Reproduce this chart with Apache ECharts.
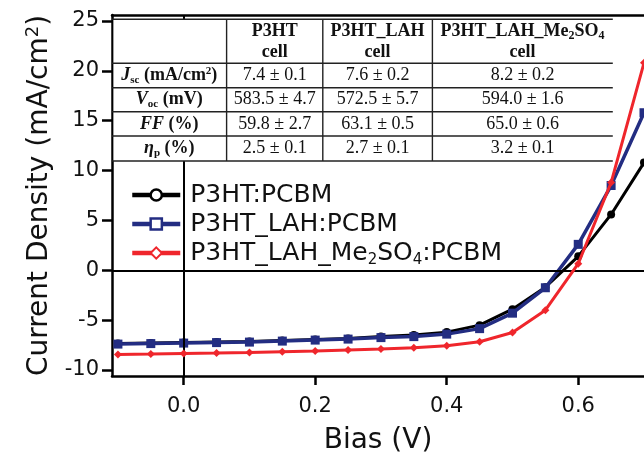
<!DOCTYPE html>
<html>
<head>
<meta charset="utf-8">
<script src="https://cdn.jsdelivr.net/npm/echarts@6/dist/echarts.min.js"></script>
<style>
  html, body { margin: 0; padding: 0; background: #fff; }
  #chart { width: 644px; height: 460px; }
</style>
</head>
<body>
<div id="chart"></div>
<script>
// ---- data ----
const biasV = [-0.1, -0.05, 0, 0.05, 0.1, 0.15, 0.2, 0.25, 0.3, 0.35, 0.4, 0.45, 0.5, 0.55, 0.6, 0.65, 0.7];
const p3htPcbm = [-7.35, -7.3, -7.25, -7.2, -7.15, -7.05, -6.95, -6.85, -6.65, -6.5, -6.2, -5.5, -3.9, -1.7, 1.4, 5.6, 10.8];
const p3htLahPcbm = [-7.4, -7.35, -7.3, -7.25, -7.2, -7.1, -7.0, -6.9, -6.75, -6.65, -6.4, -5.85, -4.3, -1.75, 2.6, 8.5, 15.8];
const p3htLahMePcbm = [-8.44, -8.4, -8.34, -8.3, -8.24, -8.17, -8.1, -8.0, -7.9, -7.77, -7.57, -7.17, -6.24, -4.0, 0.66, 8.8, 20.8];
const seriesNames = ['P3HT:PCBM', 'P3HT_LAH:PCBM', 'P3HT_LAH_Me2SO4:PCBM'];
const xTickValues = [0, 0.2, 0.4, 0.6];
const yTickValues = [-10, -5, 0, 5, 10, 15, 20, 25];

// table content
const tableHeaders = ['P3HT\ncell', 'P3HT_LAH\ncell', 'P3HT_LAH_Me{hs|2}SO{hs|4}\n{hb|cell}'];
const rowLabels = [
  '{bi|J}{bs|sc}{b| (mA/cm}{bp|2}{b|)}',
  '{bi|V}{bs|oc}{b| (mV)}',
  '{bi|FF}{b| (%)}',
  '{bi|η}{bs|p}{b| (%)}'
];
const jscValues = ['7.4 ± 0.1', '7.6 ± 0.2', '8.2 ± 0.2'];
const vocValues = ['583.5 ± 4.7', '572.5 ± 5.7', '594.0 ± 1.6'];
const ffValues = ['59.8 ± 2.7', '63.1 ± 0.5', '65.0 ± 0.6'];
const etaValues = ['2.5 ± 0.1', '2.7 ± 0.1', '3.2 ± 0.1'];
const tableRows = [jscValues, vocValues, ffValues, etaValues];

// ---- layout of table (pixels) ----
const colX = [112, 226.6, 322.8, 432.4, 612.8];
const rowY = [19.3, 63.3, 87.7, 111.7, 136, 161];

const serif = 'Liberation Serif';
const sans = 'DejaVu Sans';
const tableRich = {
  b: { fontFamily: serif, fontWeight: 'bold', fontSize: 18, lineHeight: 20 },
  bi: { fontFamily: serif, fontWeight: 'bold', fontStyle: 'italic', fontSize: 18, lineHeight: 20 },
  bs: { fontFamily: serif, fontWeight: 'bold', fontSize: 11, lineHeight: 10, verticalAlign: 'bottom' },
  bp: { fontFamily: serif, fontWeight: 'bold', fontSize: 11, lineHeight: 10, verticalAlign: 'top' },
  hs: { fontFamily: serif, fontWeight: 'bold', fontSize: 12, lineHeight: 12, verticalAlign: 'bottom' },
  hb: { fontFamily: serif, fontWeight: 'bold', fontSize: 18, lineHeight: 21 }
};

const graphics = [];
graphics.push({ type: 'rect', z: 100, shape: { x: 113.5, y: rowY[0], width: colX[4] - 113.5, height: rowY[5] - rowY[0] }, style: { fill: '#fff' } });
rowY.forEach(y => {
  graphics.push({ type: 'line', z: 101, shape: { x1: colX[0], y1: y, x2: colX[4], y2: y }, style: { stroke: '#222', lineWidth: 1.4 } });
});
[1, 2, 3].forEach(i => {
  graphics.push({ type: 'line', z: 101, shape: { x1: colX[i], y1: rowY[0], x2: colX[i], y2: rowY[5] }, style: { stroke: '#222', lineWidth: 1.4 } });
});
tableHeaders.forEach((h, i) => {
  graphics.push({ type: 'text', z: 102, style: {
    text: h, x: (colX[i + 1] + colX[i + 2]) / 2, y: (rowY[0] + rowY[1]) / 2 + 1,
    align: 'center', verticalAlign: 'middle', fontFamily: serif, fontWeight: 'bold', fontSize: 18, lineHeight: 21,
    fill: '#111', rich: tableRich
  } });
});
rowLabels.forEach((t, r) => {
  graphics.push({ type: 'text', z: 102, style: {
    text: t, x: (colX[0] + colX[1]) / 2, y: (rowY[r + 1] + rowY[r + 2]) / 2,
    align: 'center', verticalAlign: 'middle', fill: '#111', rich: tableRich
  } });
  tableRows[r].forEach((v, c) => {
    graphics.push({ type: 'text', z: 102, style: {
      text: v, x: (colX[c + 1] + colX[c + 2]) / 2, y: (rowY[r + 1] + rowY[r + 2]) / 2,
      align: 'center', verticalAlign: 'middle', fontFamily: serif, fontSize: 18, fill: '#111'
    } });
  });
});

const colors = ['#000000', '#232d82', '#ef262c'];
const toPairs = ys => biasV.map((x, i) => [x, ys[i]]);

const chart = echarts.init(document.getElementById('chart'), null, { renderer: 'canvas' });
chart.setOption({
  animation: false,
  backgroundColor: '#fff',
  grid: { left: 112, right: 0, top: 15, bottom: 82.5, containLabel: false },
  xAxis: [{
    type: 'value', min: -0.109, max: 0.7,
    name: 'Bias (V)', nameLocation: 'middle', nameGap: 51,
    nameTextStyle: { fontFamily: sans, fontSize: 28, color: '#111' },
    axisLine: { show: true, onZero: false, lineStyle: { color: '#000', width: 2.5 } },
    axisTick: { show: true, inside: false, length: 9, lineStyle: { color: '#000', width: 2.5 }, customValues: xTickValues },
    axisLabel: { fontFamily: sans, fontSize: 21, color: '#111', margin: 20, customValues: xTickValues, formatter: v => v.toFixed(1) },
    splitLine: { show: false }
  }, {
    type: 'value', position: 'top', min: -0.109, max: 0.7,
    axisLine: { show: true, onZero: false, lineStyle: { color: '#000', width: 2.5 } },
    axisTick: { show: false }, axisLabel: { show: false }, splitLine: { show: false }
  }],
  yAxis: {
    type: 'value', min: -10.6, max: 25.6,
    name: '{a|Current Density (mA/cm}{s|2}{a|)}', nameLocation: 'middle', nameGap: 56,
    nameTextStyle: { fontFamily: sans, fontSize: 28, color: '#111',
      rich: { a: { fontFamily: sans, fontSize: 28, lineHeight: 30, color: '#111' },
              s: { fontFamily: sans, fontSize: 18, lineHeight: 18, verticalAlign: 'top', color: '#111' } } },
    axisLine: { show: true, onZero: false, lineStyle: { color: '#000', width: 2.5 } },
    axisTick: { show: true, inside: false, length: 10, lineStyle: { color: '#000', width: 2.5 }, customValues: yTickValues },
    axisLabel: { fontFamily: sans, fontSize: 21, color: '#111', margin: 13, customValues: yTickValues },
    splitLine: { show: false }
  },
  legend: {
    orient: 'vertical', left: 130, top: 180.5, padding: 0, itemGap: 0, itemWidth: 48, itemHeight: 14,
    lineStyle: { width: 4.5 },
    textStyle: { fontFamily: sans, fontSize: 25, lineHeight: 29, color: '#111', padding: [0, 0, 0, 5],
      rich: { sub: { fontFamily: sans, fontSize: 15, lineHeight: 14, verticalAlign: 'bottom', color: '#111' } } },
    formatter: n => n === seriesNames[2] ? 'P3HT_LAH_Me{sub|2}SO{sub|4}:PCBM' : n,
    data: [
      { name: seriesNames[0], itemStyle: { color: '#fff', borderColor: colors[0], borderWidth: 2.5 } },
      { name: seriesNames[1], itemStyle: { color: '#fff', borderColor: colors[1], borderWidth: 2.5 } },
      { name: seriesNames[2], itemStyle: { color: '#fff', borderColor: colors[2], borderWidth: 2 } }
    ]
  },
  graphic: graphics,
  series: [
    {
      type: 'line', name: '_zero', data: [], z: 1, silent: true,
      markLine: { silent: true, symbol: ['none', 'none'], label: { show: false },
        lineStyle: { color: '#000', width: 2, type: 'solid' }, animation: false,
        data: [{ xAxis: 0 }, { yAxis: 0 }] }
    },
    { type: 'line', name: seriesNames[0], data: toPairs(p3htPcbm), color: colors[0], symbol: 'circle', symbolSize: 8,
      lineStyle: { width: 3 }, itemStyle: { color: colors[0] }, z: 3 },
    { type: 'line', name: seriesNames[1], data: toPairs(p3htLahPcbm), color: colors[1], symbol: 'rect', symbolSize: 9,
      lineStyle: { width: 3.5 }, itemStyle: { color: colors[1] }, z: 4 },
    { type: 'line', name: seriesNames[2], data: toPairs(p3htLahMePcbm), color: colors[2], symbol: 'diamond', symbolSize: 8,
      lineStyle: { width: 3 }, itemStyle: { color: colors[2] }, z: 5 }
  ]
});
</script>
</body>
</html>
